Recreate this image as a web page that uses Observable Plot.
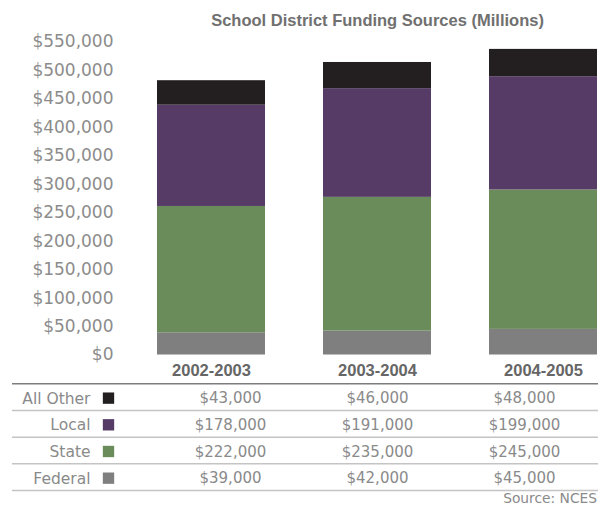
<!DOCTYPE html>
<html>
<head>
<meta charset="utf-8">
<script src="https://cdn.jsdelivr.net/npm/d3@7"></script>
<script src="https://cdn.jsdelivr.net/npm/@observablehq/plot@0.6"></script>
<style>
  html, body { margin: 0; padding: 0; background: #fff; }
  #chart svg { display: block; overflow: visible; }
</style>
</head>
<body>
<div id="chart"></div>
<script>
const titleText = "School District Funding Sources (Millions)";
const sourceText = "Source: NCES";
const years = ["2002-2003", "2003-2004", "2004-2005"];
const series = ["All Other", "Local", "State", "Federal"];
const allOther = [43000, 46000, 48000];
const local = [178000, 191000, 199000];
const state = [222000, 235000, 245000];
const federal = [39000, 42000, 45000];
const colors = ["#231f20", "#563b66", "#6a8b5a", "#7f7f7f"];
const yTicks = [0, 50000, 100000, 150000, 200000, 250000, 300000, 350000, 400000, 450000, 500000, 550000];

const valuesBySeries = {"All Other": allOther, "Local": local, "State": state, "Federal": federal};
const fmt = d3.format(",");
const money = d => "$" + fmt(d);

// Stack order bottom-up: Federal, State, Local, All Other
const stackOrder = series.slice().reverse();
const rows = [];
years.forEach((year, i) => {
  stackOrder.forEach(s => rows.push({year, series: s, value: valuesBySeries[s][i]}));
});

const tableRows = [];
series.forEach((s, r) => {
  years.forEach((year, i) => tableRows.push({year, series: s, row: r + 0.5, value: valuesBySeries[s][i]}));
});
const labelRows = series.map((s, r) => ({series: s, row: r + 0.5}));
const ruleIdx = d3.range(series.length + 1);

const xScale = {domain: years, paddingInner: 0.35, paddingOuter: 0};

const chart = Plot.plot({
  width: 598,
  height: 381,
  marginTop: 41.5,
  marginBottom: 26.5,
  marginLeft: 156,
  marginRight: 0,
  style: {fontFamily: "DejaVu Sans", background: "#fff"},
  x: xScale,
  y: {domain: [0, 550000]},
  color: {domain: series, range: colors},
  marks: [
    Plot.barY(rows, {x: "year", y: "value", fill: "series"}),
    Plot.axisY({ticks: yTicks, tickFormat: money, tickSize: 0, tickPadding: 43, fontSize: 17, color: "#8c8c8c", label: null}),
    Plot.axisX({tickSize: 0, tickPadding: 9.5, fontSize: 16.5, fontWeight: "bold", fontFamily: "Liberation Sans", color: "#666666", label: null}),
    Plot.text([titleText], {text: d => d, frameAnchor: "top", dy: -21.5, lineAnchor: "middle", fontSize: 16.5, fontWeight: "bold", fontFamily: "Liberation Sans", fill: "#707070"})
  ]
});

const table = Plot.plot({
  width: 598,
  height: 125,
  marginTop: 2.3,
  marginBottom: 16,
  marginLeft: 12,
  marginRight: 0,
  style: {fontFamily: "DejaVu Sans", background: "#fff"},
  x: {...xScale, range: [156, 598], axis: null},
  y: {domain: [0, series.length], reverse: true, axis: null},
  color: {domain: series, range: colors},
  marks: [
    Plot.ruleY(ruleIdx.slice(1), {y: d => d, stroke: "#c4c4c4", strokeWidth: 1.5}),
    Plot.ruleY(ruleIdx.slice(0, 1), {y: d => d, stroke: "#7d7d7d", strokeWidth: 1.5}),
    Plot.text(labelRows, {y: "row", text: "series", frameAnchor: "left", dx: 78, dy: 1.5, textAnchor: "end", fontSize: 15.5, fill: "#8a8a8a"}),
    Plot.dot(labelRows, {y: "row", frameAnchor: "left", dx: 96, dy: 1, symbol: "square", r: 6.4, fill: "series", stroke: null}),
    Plot.text(tableRows, {x: "year", y: "row", text: d => money(d.value), dy: 1.5, fontSize: 15, fill: "#8a8a8a"}),
    Plot.text([sourceText], {text: d => d, frameAnchor: "bottom-right", dx: -1.5, dy: 8.5, textAnchor: "end", lineAnchor: "middle", fontSize: 13.8, fill: "#8a8a8a"})
  ]
});

document.getElementById("chart").append(chart, table);
</script>
</body>
</html>
